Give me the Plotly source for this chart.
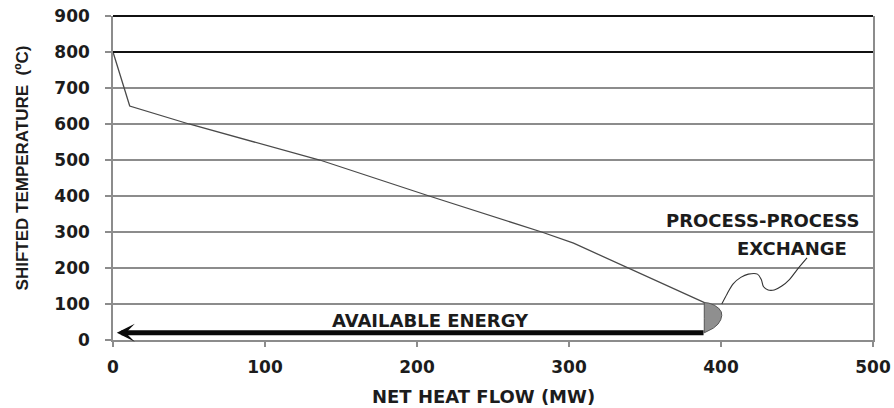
import plotly.graph_objects as go

# ---- data ----
heat_flow = [0, 11, 50, 136, 208, 282, 303, 339, 389.5]          # MW
temperature = [800, 650, 600, 500, 400, 300, 269, 200, 103]      # deg C

pocket_x = [389, 392, 395.5, 398.5, 400.2, 400.5, 399.8, 398, 395, 391.5, 389, 389, 389]
pocket_y = [104, 102.5, 97, 88, 78, 68, 56, 44, 33, 24, 20, 60, 104]

leader_x = [400.5, 404, 408, 413, 418, 424, 426.5, 428, 431, 435, 440, 445, 450, 456.6]
leader_y = [100, 128, 156, 174, 183, 183, 168, 148, 139, 139, 150, 168, 195, 228]

arrow_from_x, arrow_to_x, arrow_y = 389.5, 2.5, 20

x_ticks = [0, 100, 200, 300, 400, 500]
y_ticks = [0, 100, 200, 300, 400, 500, 600, 700, 800, 900]
bold_lines = [800, 900]

label_available = ("AVAILABLE ENERGY", 209, 55)
label_pp = ("PROCESS-PROCESS", 427.5, 333)
label_ex = ("EXCHANGE", 447, 253)
x_title = ("NET HEAT FLOW (MW)", 243.8)
y_title = ("SHIFTED TEMPERATURE  (ºC)", 478)

TXT = "#1c1c1c"
GRID = "#8c8c8c"
FONT_B = "DejaVu Sans"

fig = go.Figure()

fig.add_trace(go.Scatter(x=heat_flow, y=temperature, mode="lines",
                         line=dict(color="#4a4a4a", width=1.3),
                         hoverinfo="skip", showlegend=False))

fig.add_trace(go.Scatter(x=pocket_x, y=pocket_y, mode="lines", fill="toself",
                         fillcolor="#8f8f8f", line=dict(color="#555555", width=1),
                         hoverinfo="skip", showlegend=False))

fig.add_trace(go.Scatter(x=leader_x, y=leader_y, mode="lines", line_shape="spline",
                         line=dict(color="#333333", width=1.1),
                         hoverinfo="skip", showlegend=False))

for yv in bold_lines:
    fig.add_shape(type="line", xref="paper", yref="paper", x0=0, x1=1,
                  y0=yv / 900, y1=yv / 900,
                  line=dict(color="#111111", width=2.2), layer="above")

fig.add_annotation(x=arrow_to_x, y=arrow_y, ax=arrow_from_x, ay=arrow_y,
                   xref="x", yref="y", axref="x", ayref="y",
                   showarrow=True, arrowhead=3, arrowsize=0.6, arrowwidth=5,
                   arrowcolor="#0a0a0a", text="")

for txt, xv, yv in [label_available, label_pp, label_ex]:
    fig.add_annotation(x=xv, y=yv, xref="x", yref="y", text=txt, showarrow=False,
                       font=dict(family=FONT_B, size=18, color=TXT, weight="bold"),
                       xanchor="center", yanchor="middle")

fig.add_annotation(x=x_title[1], y=0, xref="x", yref="paper", yshift=-56,
                   text=x_title[0], showarrow=False,
                   font=dict(family=FONT_B, size=18, color=TXT, weight="bold"),
                   xanchor="center", yanchor="middle")

fig.add_annotation(x=0, y=y_title[1], xref="paper", yref="y",
                   xshift=-113 + 22.5, text=y_title[0],
                   textangle=-90, showarrow=False,
                   font=dict(family="Liberation Sans", size=17, color=TXT, weight="bold"),
                   xanchor="center", yanchor="middle")

fig.update_layout(
    width=894, height=408,
    margin=dict(l=113, r=21, t=16, b=68, autoexpand=False),
    paper_bgcolor="white", plot_bgcolor="white",
    font=dict(family=FONT_B, color=TXT),
    showlegend=False,
)

fig.update_xaxes(range=[0, 500], tickvals=x_ticks, ticks="outside", ticklen=5,
                 tickcolor=GRID, tickwidth=1.5, automargin=False,
                 showline=True, linecolor=GRID, linewidth=1.5,
                 showgrid=False, zeroline=False, ticklabelstandoff=6,
                 tickfont=dict(family=FONT_B, size=17, color=TXT, weight="bold"))

fig.update_yaxes(range=[0, 900], tickvals=y_ticks, ticks="outside", ticklen=6,
                 tickcolor=GRID, tickwidth=1.5, automargin=False,
                 showline=True, linecolor=GRID, linewidth=1.5, mirror=True,
                 showgrid=True, gridcolor=GRID, gridwidth=1.5, zeroline=False,
                 ticklabelstandoff=12,
                 tickfont=dict(family=FONT_B, size=17, color=TXT, weight="bold"))

fig.write_html("out.html", config={"displayModeBar": False},
               post_script="document.body.style.margin='0';document.body.style.padding='0';")
